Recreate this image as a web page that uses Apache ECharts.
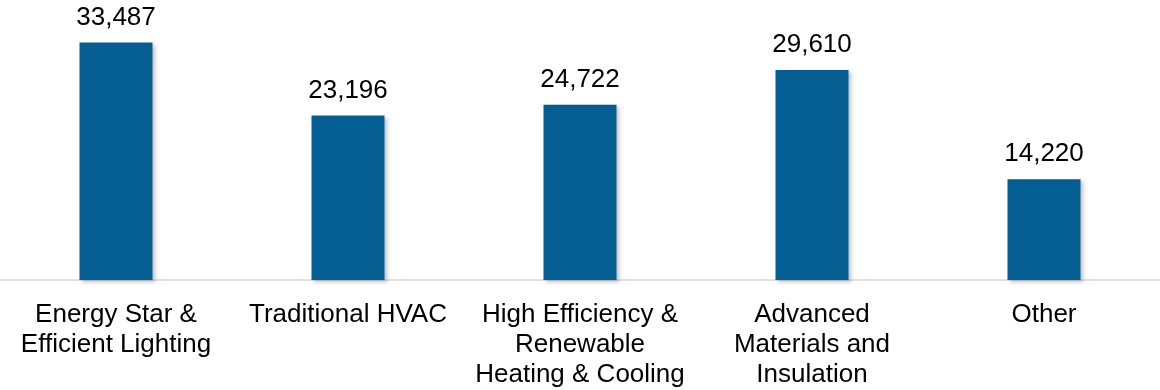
<!DOCTYPE html>
<html>
<head>
<meta charset="utf-8">
<script src="https://cdn.jsdelivr.net/npm/echarts@6/dist/echarts.min.js"></script>
<style>
html,body{margin:0;padding:0;background:#fff;}
#c{width:1160px;height:390px;}
</style>
</head>
<body>
<div id="c"></div>
<script>
const categories = [
  "Energy Star &\nEfficient Lighting",
  "Traditional HVAC",
  "High Efficiency &\nRenewable\nHeating & Cooling",
  "Advanced\nMaterials and\nInsulation",
  "Other"
];
const values = [33487, 23196, 24722, 29610, 14220];
const yMax = 39500;

const FONT = "'Liberation Sans', Arial, sans-serif";
const chart = echarts.init(document.getElementById('c'), null, {renderer: 'canvas'});
chart.setOption({
  animation: false,
  backgroundColor: '#ffffff',
  grid: {left: 0, width: 1163, top: 0, bottom: 109, containLabel: false},
  xAxis: {
    type: 'category',
    data: categories,
    axisLine: {show: true, lineStyle: {color: '#d9d9d9', width: 1.5}},
    axisTick: {show: false},
    axisLabel: {
      interval: 0,
      margin: 20,
      color: '#000000',
      fontFamily: FONT,
      fontSize: 26,
      lineHeight: 30,
      align: 'center',
      verticalAlign: 'top'
    }
  },
  yAxis: {
    type: 'value',
    min: 0,
    max: yMax,
    show: false,
    splitLine: {show: false}
  },
  series: [{
    type: 'bar',
    data: values,
    barWidth: 73,
    itemStyle: {
      color: '#045e92',
      shadowBlur: 4,
      shadowColor: 'rgba(0,0,0,0.25)',
      shadowOffsetX: 2,
      shadowOffsetY: 2
    },
    label: {
      show: true,
      position: 'top',
      distance: 12,
      color: '#000000',
      fontFamily: FONT,
      fontSize: 26,
      formatter: p => p.value.toLocaleString('en-US')
    }
  }]
});
</script>
</body>
</html>
